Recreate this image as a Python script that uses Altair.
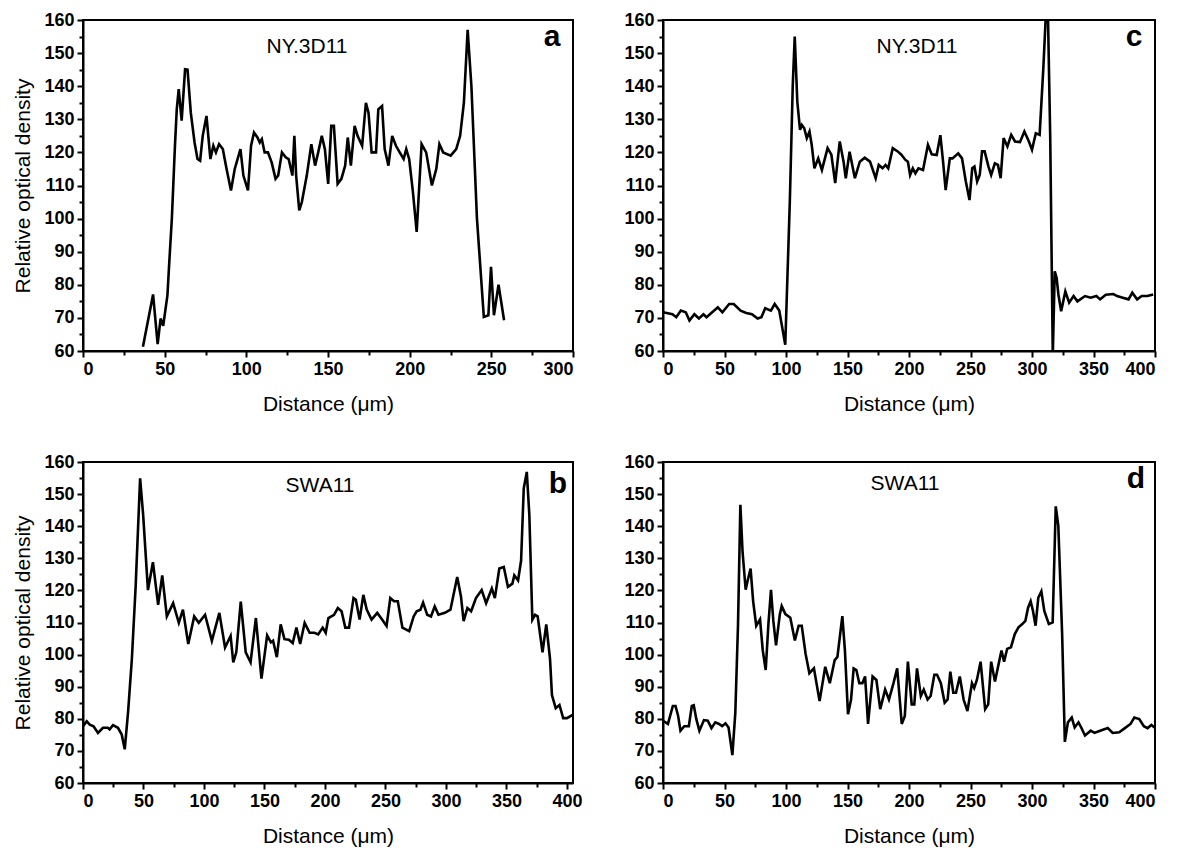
import altair as alt
import pandas as pd

# ---------------- data ----------------
a_x = [36.7, 42.9, 45.7, 47.5, 49.1, 51.7, 52.6, 54.4, 56.3, 57.4, 58.6, 60.4, 62.5, 64.0, 66.0, 68.3, 70.1, 71.7,
       73.3, 75.6, 78.0, 79.8, 81.4, 83.3, 85.6, 87.9, 90.6, 92.9, 96.4, 98.2, 101.0, 102.9, 104.7, 106.8, 108.2,
       109.5, 111.2, 113.2, 115.5, 117.9, 119.5, 121.8, 124.1, 125.9, 128.2, 129.4, 130.5, 132.4, 134.0, 137.0,
       139.8, 142.1, 144.0, 146.2, 148.1, 150.1, 152.0, 153.6, 155.9, 158.2, 160.5, 162.1, 164.0, 166.3, 168.1,
       170.9, 173.2, 174.8, 176.7, 179.4, 180.8, 183.1, 184.7, 187.0, 189.3, 191.6, 193.9, 196.3, 197.9, 199.7,
       202.0, 204.3, 207.3, 210.1, 213.6, 216.3, 218.2, 220.5, 225.1, 228.5, 230.9, 233.2, 235.5, 237.8, 241.2,
       245.4, 248.2, 249.8, 251.6, 254.4, 257.8]
a_y = [61.3, 77.1, 62.1, 69.8, 67.6, 76.9, 84.9, 100.0, 122.0, 133.0, 139.1, 129.6, 145.1, 145.0, 132.0, 123.0,
       118.0, 117.5, 125.0, 131.0, 118.0, 122.0, 120.0, 122.5, 121.0, 115.0, 108.5, 115.0, 121.0, 113.0, 108.5,
       122.0, 126.0, 124.5, 123.0, 124.0, 120.0, 120.0, 117.0, 112.0, 113.0, 120.0, 118.5, 118.0, 113.0, 125.0,
       113.0, 102.5, 105.0, 113.0, 122.5, 116.0, 120.0, 125.0, 121.0, 110.5, 128.0, 128.0, 110.5, 112.0, 116.0,
       124.5, 116.0, 128.0, 125.0, 122.0, 135.0, 132.0, 120.0, 120.0, 133.0, 134.0, 121.0, 116.0, 125.0, 122.0,
       120.0, 118.0, 121.0, 118.0, 108.0, 96.0, 122.5, 120.0, 110.0, 115.0, 122.5, 120.0, 119.0, 121.0, 125.0,
       135.0, 157.0, 140.0, 100.0, 70.3, 70.8, 85.4, 70.8, 80.0, 69.3]

c_x = [0.0, 7.7, 10.8, 14.5, 18.5, 21.5, 25.5, 29.2, 32.9, 35.4, 40.0, 44.6, 48.3, 53.8, 57.5, 63.1, 67.7, 72.3,
       76.9, 80.0, 83.1, 87.7, 90.8, 94.5, 96.9, 99.4, 103.1, 105.5, 107.1, 109.2, 111.4, 112.9, 114.8, 116.9,
       119.1, 120.9, 123.1, 126.2, 129.2, 133.8, 136.9, 140.0, 143.7, 146.8, 148.6, 151.7, 156.0, 160.0, 164.0,
       168.3, 172.9, 175.4, 178.5, 180.9, 183.1, 186.8, 190.8, 193.8, 196.9, 199.1, 200.9, 203.1, 205.2, 207.7,
       211.4, 215.4, 218.5, 222.5, 225.5, 227.7, 229.8, 233.2, 235.4, 240.0, 243.1, 246.2, 249.2, 251.4, 253.2,
       255.4, 257.5, 259.4, 261.5, 264.6, 266.8, 269.8, 272.3, 274.5, 276.9, 280.0, 283.1, 286.2, 290.2, 293.8,
       297.5, 300.0, 303.1, 306.2, 309.2, 311.7, 312.9, 314.8, 316.9, 318.5, 320.0, 321.5, 323.7, 327.1, 330.2,
       333.8, 336.9, 343.1, 347.7, 352.3, 355.4, 360.0, 366.2, 369.2, 373.8, 378.5, 381.5, 385.5, 389.2, 393.8,
       398.5]
c_y = [71.7, 71.1, 70.2, 72.2, 71.7, 69.2, 71.1, 69.8, 71.1, 70.2, 71.7, 73.2, 71.7, 74.2, 74.2, 72.2, 71.5, 71.1,
       69.8, 70.2, 72.9, 72.2, 74.2, 72.2, 67.2, 61.9, 105.0, 140.4, 155.0, 135.3, 126.8, 128.3, 127.3, 124.3,
       126.3, 122.3, 115.2, 118.2, 114.7, 121.3, 119.3, 110.7, 123.3, 117.2, 112.2, 120.2, 112.2, 117.2, 118.4,
       117.2, 112.2, 116.2, 115.2, 116.2, 115.2, 121.3, 120.3, 119.3, 117.8, 117.2, 113.2, 115.2, 113.7, 115.2,
       114.7, 122.3, 119.4, 119.2, 125.2, 117.2, 108.6, 118.2, 118.2, 119.7, 118.2, 111.2, 105.6, 115.2, 115.7,
       111.2, 113.2, 120.3, 120.3, 115.7, 113.2, 116.7, 116.2, 112.2, 124.3, 121.8, 125.3, 123.3, 123.1, 126.3,
       123.3, 120.8, 125.8, 125.3, 145.4, 165.0, 163.0, 125.0, 58.8, 84.1, 82.1, 77.0, 72.0, 78.0, 74.6,
       76.6, 75.0, 76.6, 76.1, 76.6, 75.6, 77.0, 77.2, 76.6, 76.1, 75.6, 77.6, 75.6, 76.6, 76.6,
       77.1]

b_x = [0.0, 3.1, 5.6, 8.7, 12.4, 16.5, 20.5, 22.0, 24.8, 28.9, 32.0, 34.5, 37.3, 40.4, 43.5, 47.2, 49.7, 53.7,
       57.8, 62.1, 65.5, 69.3, 74.5, 79.2, 82.6, 87.0, 91.9, 95.7, 100.9, 106.5, 112.7, 117.4, 122.0, 124.2,
       126.7, 130.4, 134.5, 138.5, 142.9, 147.5, 152.2, 155.3, 157.1, 160.2, 163.4, 166.5, 170.2, 173.3, 176.4,
       179.5, 183.2, 187.3, 191.3, 194.4, 198.1, 200.6, 202.8, 207.5, 210.6, 213.7, 216.8, 219.9, 223.6, 225.5,
       228.6, 231.7, 234.5, 238.5, 243.2, 247.2, 250.9, 254.0, 257.1, 260.2, 264.0, 269.6, 273.3, 275.8, 278.9,
       281.1, 284.5, 287.6, 290.7, 293.8, 299.1, 303.7, 309.3, 312.4, 314.6, 317.7, 320.8, 324.8, 329.5, 333.2,
       337.9, 340.4, 344.1, 347.8, 351.2, 354.9, 356.5, 359.6, 362.1, 364.3, 366.8, 368.9, 371.4, 373.6, 375.8,
       379.8, 382.9, 386.0, 387.6, 390.7, 393.8, 396.9, 400.0, 404.7]
b_y = [77.7, 79.2, 78.2, 77.7, 75.6, 77.2, 77.2, 76.7, 78.0, 77.2, 75.1, 70.5, 82.3, 98.7, 121.1, 154.9, 143.6,
       120.1, 128.8, 115.5, 124.7, 111.9, 116.0, 109.9, 114.0, 103.3, 111.9, 109.9, 112.4, 104.3, 113.0, 102.2,
       105.8, 97.6, 100.7, 116.5, 100.7, 97.6, 111.4, 92.5, 106.0, 103.8, 104.3, 99.2, 109.4, 104.8, 104.6,
       103.6, 108.4, 103.3, 109.9, 106.8, 106.8, 106.3, 108.4, 106.8, 111.4, 112.4, 114.5, 113.5, 108.4, 108.4,
       117.6, 117.1, 110.9, 118.6, 114.0, 110.9, 113.0, 110.9, 108.9, 117.6, 116.6, 116.6, 108.4, 107.3, 111.9,
       113.5, 114.0, 116.2, 112.4, 111.9, 115.0, 112.4, 113.0, 114.0, 124.2, 118.1, 110.4, 114.5, 113.5, 117.6,
       120.1, 116.0, 120.6, 117.6, 126.8, 127.3, 121.1, 122.1, 124.7, 123.1, 129.3, 151.8, 156.9, 143.6, 110.9,
       112.4, 111.9, 100.7, 109.4, 98.7, 87.4, 83.3, 84.3, 80.2, 80.2, 81.2]

d_x = [0.0, 4.0, 8.0, 10.2, 12.3, 14.2, 17.3, 21.0, 23.4, 25.0, 27.1, 29.6, 33.3, 36.4, 39.4, 42.5, 45.6, 48.1,
       50.8, 53.3, 56.4, 58.8, 61.0, 62.9, 64.7, 67.2, 69.0, 71.2, 73.3, 75.8, 78.9, 81.1, 83.5, 85.7, 87.8,
       89.7, 91.9, 95.0, 96.5, 99.5, 103.5, 107.2, 110.3, 112.8, 115.9, 119.0, 122.7, 127.3, 131.9, 135.6, 139.6,
       141.8, 145.8, 147.9, 150.4, 152.9, 155.0, 157.2, 159.6, 162.1, 164.3, 166.7, 170.4, 173.5, 176.6, 180.6,
       183.7, 187.4, 190.4, 194.1, 196.6, 199.1, 202.2, 204.3, 206.5, 209.6, 212.0, 215.1, 217.6, 220.6, 222.8,
       225.9, 229.0, 231.4, 233.6, 236.0, 238.2, 241.3, 244.4, 247.5, 251.2, 253.0, 255.2, 258.2, 261.9, 264.4,
       266.8, 269.9, 272.1, 275.2, 277.3, 279.8, 282.9, 286.0, 289.0, 292.1, 294.6, 296.8, 298.9, 300.8, 302.9,
       305.1, 307.6, 310.0, 313.7, 316.8, 319.3, 321.4, 324.5, 326.7, 329.2, 332.3, 334.7, 337.8, 340.0, 343.1,
       347.7, 350.8, 355.4, 361.6, 365.6, 370.9, 375.5, 380.1, 383.2, 387.2, 390.9, 394.0, 397.1, 399.6]
d_y = [79.4, 78.4, 84.0, 84.0, 80.9, 76.3, 77.7, 77.7, 84.0, 84.2, 79.9, 76.3, 79.6, 79.4, 77.1, 78.9, 78.4, 77.7,
       78.6, 77.3, 68.7, 81.9, 109.5, 146.7, 131.9, 120.2, 123.3, 126.8, 116.6, 109.0, 111.0, 101.3, 95.2, 109.5,
       120.2, 110.5, 102.9, 112.6, 115.1, 112.6, 111.5, 104.4, 109.0, 109.0, 100.3, 94.2, 95.7, 85.5, 96.2, 91.1,
       98.3, 99.3, 112.0, 101.3, 81.4, 86.0, 95.7, 95.2, 91.1, 91.1, 93.2, 78.4, 93.2, 92.1, 83.0, 89.1, 86.0,
       91.1, 95.7, 78.4, 80.9, 97.8, 84.5, 84.5, 95.7, 87.1, 89.1, 86.0, 87.1, 93.7, 93.7, 91.1, 85.0, 86.0,
       94.7, 88.1, 88.1, 93.2, 86.0, 82.4, 91.1, 89.6, 92.1, 97.8, 83.0, 84.5, 97.8, 91.6, 95.7, 101.3, 97.8,
       101.8, 102.3, 106.4, 108.5, 109.5, 110.5, 114.6, 116.6, 113.6, 109.0, 117.7, 119.7, 113.6, 109.5, 110.0,
       146.2, 140.1, 106.4, 72.8, 78.9, 80.4, 77.3, 78.9, 77.3, 74.8, 76.3, 75.6, 76.3, 77.1, 75.6, 75.8, 77.1,
       78.4, 80.4, 79.9, 77.7, 77.1, 78.1, 77.3]

y_ticks = list(range(60, 161, 5))
x_ticks_300 = list(range(0, 301, 25))
x_ticks_400 = list(range(0, 401, 25))

FONT = "Liberation Sans"
Y_TITLE = "Relative optical density"
X_TITLE = "Distance (\u03bcm)"


def panel(xs, ys, xmax, xticks, name, letter, w, h, show_ytitle, name_pos, letter_pos):
    df = pd.DataFrame({"x": xs, "y": ys})
    xaxis = alt.Axis(
        values=xticks, title=X_TITLE,
        labelExpr="datum.value % 50 === 0 ? datum.label : ''",
        tickSize={"condition": {"test": "datum.value % 50 !== 0", "value": 4}, "value": 6},
    )
    yaxis = alt.Axis(
        values=y_ticks, title=Y_TITLE if show_ytitle else "",
        labelExpr="datum.value % 10 === 0 ? datum.label : ''",
        tickSize={"condition": {"test": "datum.value % 10 !== 0", "value": 4}, "value": 6},
    )
    line = alt.Chart(df).mark_line(color="black", strokeWidth=2.6, clip=True).encode(
        x=alt.X("x:Q", scale=alt.Scale(domain=[0, xmax], nice=False, zero=False), axis=xaxis),
        y=alt.Y("y:Q", scale=alt.Scale(domain=[60, 160], nice=False, zero=False), axis=yaxis),
        order="x:Q",
    )
    t1 = alt.Chart(pd.DataFrame({"t": [name]})).mark_text(
        font=FONT, fontSize=21, color="black", align="center", baseline="middle"
    ).encode(text="t:N", x=alt.value(name_pos[0]), y=alt.value(name_pos[1]))
    t2 = alt.Chart(pd.DataFrame({"t": [letter]})).mark_text(
        font=FONT, fontSize=30, fontWeight="bold", color="black", align="center", baseline="middle"
    ).encode(text="t:N", x=alt.value(letter_pos[0]), y=alt.value(letter_pos[1]))
    return alt.layer(line, t1, t2).properties(width=w, height=h)


pa = panel(a_x, a_y, 300, x_ticks_300, "NY.3D11", "a", 490, 331, True, (224, 27), (469, 17))
pc = panel(c_x, c_y, 400, x_ticks_400, "NY.3D11", "c", 492, 331, False, (254, 27), (471, 17))
pb = panel(b_x, b_y, 405, x_ticks_400, "SWA11", "b", 490, 321, True, (237, 24), (475, 22))
pd_ = panel(d_x, d_y, 400, x_ticks_400, "SWA11", "d", 492, 321, False, (242, 22), (473, 17))

chart = alt.concat(
    pa, pc, pb, pd_, columns=2, spacing={"row": 111, "column": 90}, bounds="flush"
).properties(
    padding={"left": 11, "top": 10, "right": 5, "bottom": 2}
).configure_view(
    stroke="black", strokeWidth=2
).configure_axis(
    labelFont=FONT, labelFontSize=18, labelFontWeight="bold", labelColor="black",
    labelPadding=3, tickColor="black", tickWidth=2, domainColor="black", domainWidth=2,
    titleFont=FONT, titleFontSize=21, titleFontWeight="normal", titleColor="black",
    grid=False,
).configure_axisY(
    titlePadding=10, labelPadding=3
).configure_axisX(
    titlePadding=15
)

chart.save("out.html", embed_options={"renderer": "svg", "actions": False})
